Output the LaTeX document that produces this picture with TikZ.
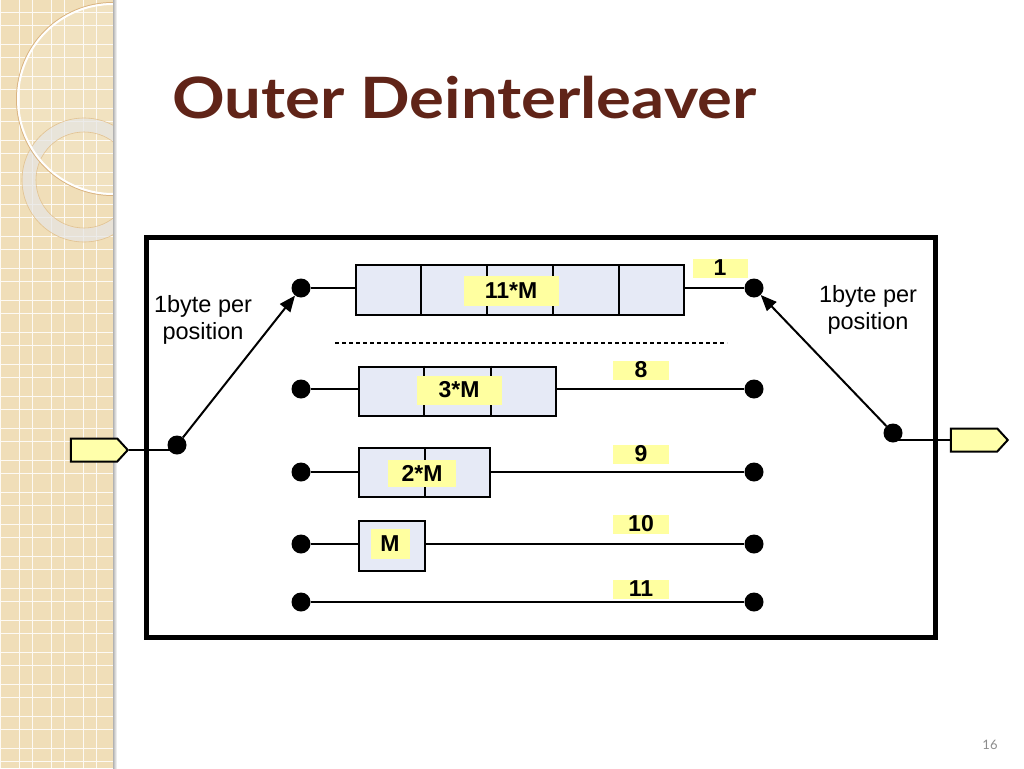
\documentclass[tikz,border=0pt]{standalone}
\usepackage{fontspec}
\setmainfont{Liberation Sans}
\newfontfamily\titlefont{Lato}
\usetikzlibrary{shapes.symbols,arrows.meta,calc}
\definecolor{stripbeige}{RGB}{240,222,184}
\definecolor{titlebrown}{RGB}{96,36,24}
\definecolor{labelyellow}{RGB}{255,255,160}
\definecolor{portyellow}{RGB}{255,255,170}
\definecolor{cellblue}{RGB}{230,234,246}
\tikzset{
  dotnode/.style={circle,fill=black,inner sep=0pt,minimum size=19pt},
  wire/.style={line width=2pt},
  queuebox/.style={draw=black,line width=2pt,fill=cellblue,inner sep=0pt},
  tag/.style={fill=labelyellow,inner sep=0pt,font=\bfseries\fontsize{23}{25}\selectfont},
  port/.style={signal,signal to=east,signal pointer angle=95,draw=black,line width=2pt,fill=portyellow,inner sep=0pt,minimum width=57pt,minimum height=23pt},
  note/.style={align=center,font=\fontsize{23.5}{27}\selectfont},
  arr/.style={wire,-{Triangle[length=16pt,width=13pt]}}
}
\begin{document}
\begin{tikzpicture}[x=1pt,y=-1pt]
\useasboundingbox (0,0) rectangle (1024,768);
\fill[white] (0,0) rectangle (1024,768);
% decorative strip
\begin{scope}
\clip (0,0) rectangle (113,768);
\fill[stripbeige] (0,0) rectangle (113,768);
\foreach \k in {0,...,24} {
  \draw[white!85!stripbeige,line width=0.9pt] (0.5+32*\k,0) -- (0.5+32*\k,768);
  \draw[white!85!stripbeige,line width=0.9pt] (19.5+32*\k,0) -- (19.5+32*\k,768);
  \draw[white!85!stripbeige,line width=0.9pt] (0,12.7+32*\k) -- (113,12.7+32*\k);
  \draw[white!85!stripbeige,line width=0.9pt] (0,25.7+32*\k) -- (113,25.7+32*\k);
}
\fill[white,opacity=0.12] (113,99) circle (94);
\draw[white!80!gray,line width=13pt,opacity=0.7] (84,180) circle (55);
\draw[stripbeige!70!brown,line width=0.6pt] (84,180) circle (62);
\draw[stripbeige!70!brown,line width=0.6pt] (84,180) circle (48);
\draw[stripbeige!55!brown,line width=1pt] (113,99) circle (96.5);
\draw[white,line width=2pt] (113,99) circle (95);
\end{scope}
\shade[left color=black!30,right color=white] (113,0) rectangle (117,768);
% title
\node[anchor=base west,inner sep=0pt,text=titlebrown,font=\titlefont\bfseries\fontsize{57}{60}\selectfont] (title) at (172,118) {\scalebox{1.145}[1]{Outer Deinterleaver}};
% frame
\node[draw=black,line width=5pt,minimum width=789pt,minimum height=400pt,inner sep=0pt] (frame) at (540.5,437) {};
% dots
\node[dotnode] (a1) at (301,288) {};
\node[dotnode] (b1) at (754,288) {};
\node[dotnode] (a2) at (301,389) {};
\node[dotnode] (b2) at (754,389) {};
\node[dotnode] (a3) at (301,472) {};
\node[dotnode] (b3) at (754,472) {};
\node[dotnode] (a4) at (301,544) {};
\node[dotnode] (b4) at (754,544) {};
\node[dotnode] (a5) at (301,602) {};
\node[dotnode] (b5) at (754,602) {};
\node[dotnode] (dl) at (177,445) {};
\node[dotnode] (dr) at (893,433) {};
% ports
\node[port] (pin) at (94,450) {};
\node[port] (pout) at (974,440) {};
% queues
\node[queuebox,minimum width=328pt,minimum height=50pt] (q1) at (520,290) {};
\node[queuebox,minimum width=197pt,minimum height=49pt] (q2) at (457.5,391) {};
\node[queuebox,minimum width=131pt,minimum height=49pt] (q3) at (424.5,472.5) {};
\node[queuebox,minimum width=66pt,minimum height=50pt] (q4) at (392,546) {};
\foreach \f in {0.2,0.4,0.6,0.8}
  \draw[wire] ($(q1.north west)!\f!(q1.north east)$) -- ($(q1.south west)!\f!(q1.south east)$);
\foreach \f in {0.3333,0.6667}
  \draw[wire] ($(q2.north west)!\f!(q2.north east)$) -- ($(q2.south west)!\f!(q2.south east)$);
\draw[wire] (q3.north) -- (q3.south);
% wires
\draw[wire] (a1) -- (a1 -| q1.west);
\draw[wire] (b1 -| q1.east) -- (b1);
\draw[wire] (a2) -- (a2 -| q2.west);
\draw[wire] (b2 -| q2.east) -- (b2);
\draw[wire] (a3) -- (a3 -| q3.west);
\draw[wire] (b3 -| q3.east) -- (b3);
\draw[wire] (a4) -- (a4 -| q4.west);
\draw[wire] (b4 -| q4.east) -- (b4);
\draw[wire] (a5) -- (b5);
\draw[wire] (pin.east) -- (dl.center |- pin.east);
\draw[wire] (dr.center |- pout.west) -- (pout.west);
\draw[arr] (dl) -- (a1);
\draw[arr] (dr) -- (b1);
% dashed separator
\coordinate (ds) at (335,343);
\coordinate (de) at (727,343);
\draw[line width=1.5pt,dash pattern=on 4pt off 3pt] (ds) -- (de);
% labels
\node[tag,minimum width=95pt,minimum height=30pt] (l1) at (511,291) {11*M};
\node[tag,minimum width=85pt,minimum height=29pt] (l2) at (459,390) {3*M};
\node[tag,minimum width=68pt,minimum height=27pt] (l3) at (422,473) {2*M};
\node[tag,minimum width=39pt,minimum height=30pt] (l4) at (390,544) {M};
\node[tag,minimum width=55pt,minimum height=19pt] (n1) at (720,268) {1};
\node[tag,minimum width=56pt,minimum height=19pt] (n8) at (641,370) {8};
\node[tag,minimum width=56pt,minimum height=19pt] (n9) at (641,454) {9};
\node[tag,minimum width=56pt,minimum height=19pt] (n10) at (641,524) {10};
\node[tag,minimum width=56pt,minimum height=19pt] (n11) at (641,589) {11};
% notes
\node[note] (tl) at (203,320) {1byte per\\position};
\node[note] (tr) at (868,310) {1byte per\\position};
% page number
\node[text=black!45,font=\titlefont\fontsize{13}{15}\selectfont] (pg) at (990,745) {16};
\end{tikzpicture}
\end{document}
